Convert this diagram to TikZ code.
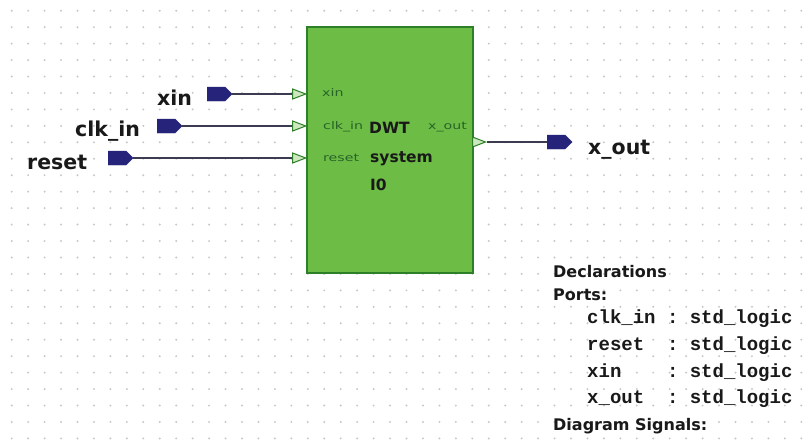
\documentclass[tikz,border=0pt]{standalone}
\usepackage{fontspec}
\setmainfont{DejaVu Sans}
\setmonofont{Liberation Mono}
\newfontfamily\pinfont{DejaVu Sans}[FakeStretch=1.35]
\usetikzlibrary{shapes.geometric,shapes.symbols}
\definecolor{boxfill}{RGB}{108,188,70}
\definecolor{boxline}{RGB}{45,128,40}
\definecolor{portnavy}{RGB}{38,36,122}
\definecolor{wire}{RGB}{60,60,80}
\definecolor{dotc}{RGB}{200,200,200}
\definecolor{pinfill}{RGB}{205,232,190}
\definecolor{pintext}{RGB}{40,100,40}
\definecolor{ink}{RGB}{25,25,25}
\tikzset{
  portmark/.style={signal, signal to=east, fill=portnavy, draw=portnavy, line width=0.4pt,
    minimum width=25pt, minimum height=14pt, inner sep=0pt},
  pin/.style={isosceles triangle, isosceles triangle stretches, draw=boxline, fill=pinfill,
    line width=1pt, minimum width=10pt, minimum height=13pt, inner sep=0pt},
  wirel/.style={draw=wire, line width=1.3pt},
  biglabel/.style={font=\fontsize{20.5}{24}\selectfont\bfseries, text=ink, anchor=base west, inner sep=0pt},
  pinlabel/.style={font=\pinfont\fontsize{10.5}{12}\selectfont, text=pintext, anchor=base west, inner sep=0pt},
  boxlabel/.style={font=\fontsize{15.5}{18}\selectfont\bfseries, text=ink, anchor=base west, inner sep=0pt},
  declhead/.style={font=\fontsize{16}{19}\selectfont\bfseries, text=ink, anchor=base west, inner sep=0pt},
  declmono/.style={font=\fontsize{19}{22}\selectfont\ttfamily\bfseries, text=ink, anchor=base west, inner sep=0pt},
}
\begin{document}
\begin{tikzpicture}[x=1pt,y=-1pt]
\useasboundingbox (0,0) rectangle (811,440);
\fill[white] (0,0) rectangle (811,440);
% dot grid
\foreach \i in {0,...,49}{
  \foreach \j in {0,...,26}{
    \fill[dotc] ({11.7+\i*16.45},{10.7+\j*16.45}) circle (1.1);
  }
}
% block
\node[draw=boxline, fill=boxfill, line width=2pt, minimum width=166pt, minimum height=246pt, inner sep=0pt] (dwt) at (390,150) {};
% pins
\node[pin, anchor=apex] (pxin) at (307,94) {};
\node[pin, anchor=apex] (pclk) at (307,126) {};
\node[pin, anchor=apex] (prst) at (307,158) {};
\node[pin, anchor=west] (pout) at (472,142) {};
% pin labels
\node[pinlabel] (lxin) at (322,96) {xin};
\node[pinlabel] (lclk) at (323,129) {clk\_in};
\node[pinlabel] (lrst) at (323,161) {reset};
\node[pinlabel] (lout) at (428,129) {x\_out};
% block text
\node[boxlabel] (t1) at (369,133) {DWT};
\node[boxlabel] (t2) at (370,162) {system};
\node[boxlabel] (t3) at (370,190) {I0};
% port markers
\node[portmark, anchor=west] (mxin) at (207,94) {};
\node[portmark, anchor=west] (mclk) at (157,126) {};
\node[portmark, anchor=west] (mrst) at (108,158) {};
\node[portmark, anchor=west] (mout) at (547,142) {};
% wires
\draw[wirel] (mxin.east) -- (pxin.west);
\draw[wirel] (mclk.east) -- (pclk.west);
\draw[wirel] (mrst.east) -- (prst.west);
\draw[wirel] (pout.apex) -- (mout.west);
% port names
\node[biglabel] (nxin) at (157,105.5) {xin};
\node[biglabel] (nclk) at (75,136.5) {clk\_in};
\node[biglabel] (nrst) at (27,169) {reset};
\node[biglabel] (nout) at (588,154) {x\_out};
% declarations
\node[declhead] (d1) at (553,277) {Declarations};
\node[declhead] (d2) at (553,300) {Ports:};
\node[declmono] (d3) at (587,323) {clk\_in\ :\ std\_logic};
\node[declmono] (d4) at (587,350) {reset\ \ :\ std\_logic};
\node[declmono] (d5) at (587,377) {xin\ \ \ \ :\ std\_logic};
\node[declmono] (d6) at (587,403) {x\_out\ \ :\ std\_logic};
\node[declhead] (d7) at (553,430) {Diagram Signals:};
\end{tikzpicture}
\end{document}
